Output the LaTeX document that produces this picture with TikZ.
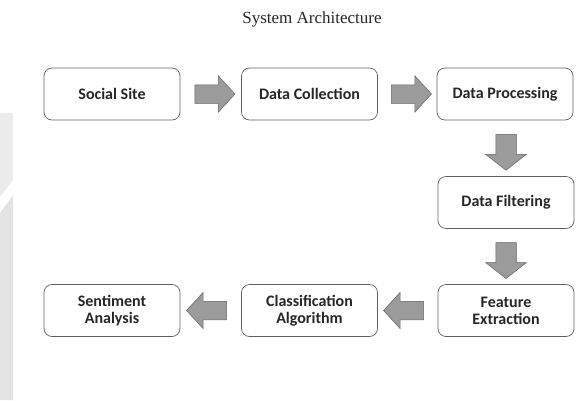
\documentclass[tikz,border=0pt]{standalone}
\usepackage{fontspec}
\setmainfont{Liberation Serif}
\newfontfamily\boxfont{Carlito}
\usetikzlibrary{shapes.arrows, calc}
\definecolor{boxline}  {RGB}{95,95,95}
\definecolor{arrowfill}{RGB}{155,155,155}
\definecolor{arrowline}{RGB}{100,100,100}
\definecolor{wmark}    {RGB}{228,228,228}
\tikzset{
  stage/.style     = {draw=boxline, rounded corners=8pt, line width=0.7pt,
                      minimum width=136pt, minimum height=52pt, inner sep=2pt,
                      align=center, text=black!85,
                      font=\boxfont\bfseries\fontsize{16}{17}\selectfont},
  blockarrow/.style= {single arrow, draw=arrowline, fill=arrowfill,
                      line width=0.5pt, inner xsep=0pt, inner ysep=9pt,
                      single arrow head extend=9pt, single arrow tip angle=95,
                      minimum height=40pt},
  downarrow/.style = {blockarrow, shape border rotate=270, inner xsep=10pt,
                      inner ysep=0pt, single arrow head extend=10pt,
                      single arrow tip angle=104, minimum height=36pt},
}

\begin{document}
\begin{tikzpicture}[x=1pt, y=-1pt]
  \useasboundingbox (0,0) rectangle (579,400);

  % faint watermark on the left edge
  \fill[wmark!70] (0,113) -- (13,113) -- (13,180) -- (0,197) -- cycle;
  \fill[wmark] (0,213) -- (13,195) -- (13,400) -- (0,400) -- cycle;

  % title
  \node[font=\fontsize{17}{20}\selectfont, text=black!85, anchor=base]
    (title) at (312,23) {System Architecture};

  % ── top row ───────────────────────────────────────────────────────────────
  \node[stage] (social)  at (112,94)   {Social Site};
  \node[stage] (collect) at (309.5,94) {Data Collection};
  \node[stage] (process) at (505,94)   {Data Processing};

  % ── right column ──────────────────────────────────────────────────────────
  \node[stage] (filter) at (506,202.5) {Data Filtering};

  % ── bottom row ────────────────────────────────────────────────────────────
  \node[stage] (feature)   at (506,310.5)   {Feature\\Extraction};
  \node[stage] (classify)  at (309.5,310.5) {Classification\\Algorithm};
  \node[stage] (sentiment) at (112,310.5)   {Sentiment\\Analysis};

  % ── block arrows between the stages ───────────────────────────────────────
  \node[blockarrow] (a1) at ($(social.east)!0.5!(collect.west)$) {};
  \node[blockarrow] (a2) at ($(collect.east)!0.5!(process.west)$) {};
  \node[downarrow] (a3)
    at ($(filter.north)!0.5!(filter.north |- process.south)$) {};
  \node[downarrow] (a4)
    at ($(filter.south)!0.5!(filter.south |- feature.north)$) {};
  \node[blockarrow, shape border rotate=180] (a5)
    at ($(feature.west)!0.5!(classify.east)$) {};
  \node[blockarrow, shape border rotate=180] (a6)
    at ($(classify.west)!0.5!(sentiment.east)$) {};

\end{tikzpicture}
\end{document}
